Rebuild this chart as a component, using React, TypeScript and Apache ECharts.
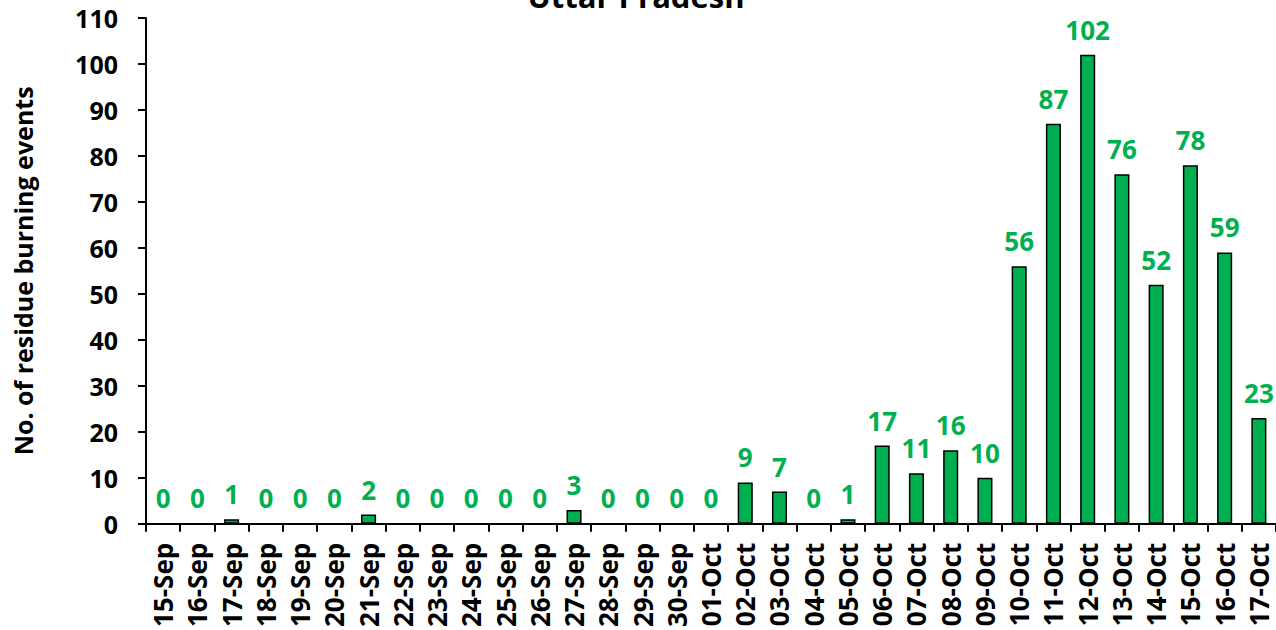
import React, { useEffect, useRef } from "react";
import * as echarts from "echarts";

const categories = [
  "15-Sep", "16-Sep", "17-Sep", "18-Sep", "19-Sep", "20-Sep", "21-Sep", "22-Sep",
  "23-Sep", "24-Sep", "25-Sep", "26-Sep", "27-Sep", "28-Sep", "29-Sep", "30-Sep",
  "01-Oct", "02-Oct", "03-Oct", "04-Oct", "05-Oct", "06-Oct", "07-Oct", "08-Oct",
  "09-Oct", "10-Oct", "11-Oct", "12-Oct", "13-Oct", "14-Oct", "15-Oct", "16-Oct", "17-Oct",
];
const events = [
  0, 0, 1, 0, 0, 0, 2, 0,
  0, 0, 0, 0, 3, 0, 0, 0,
  0, 9, 7, 0, 1, 17, 11, 16,
  10, 56, 87, 102, 76, 52, 78, 59, 23,
];
const chartTitle = "Uttar Pradesh";
const yAxisName = "No. of residue burning events";

const FONT = "'Open Sans', sans-serif";

export default function App() {
  const ref = useRef<HTMLDivElement>(null);
  useEffect(() => {
    if (!ref.current) return;
    const chart = echarts.init(ref.current, undefined, { renderer: "svg" });
    chart.setOption({
      animation: false,
      backgroundColor: "#ffffff",
      title: {
        text: chartTitle,
        left: 631,
        textAlign: "center",
        top: -25,
        textStyle: { fontFamily: FONT, fontWeight: "bold", fontSize: 31, color: "#000" },
      },
      grid: { left: 146, right: -3, top: 18, bottom: 105, containLabel: false },
      xAxis: {
        type: "category",
        data: categories,
        axisLine: { lineStyle: { color: "#000", width: 2 } },
        axisTick: { show: true, alignWithLabel: false, length: 8, lineStyle: { color: "#000", width: 2 } },
        axisLabel: {
          rotate: 90,
          interval: 0,
          margin: 19,
          fontFamily: FONT,
          fontWeight: "bold",
          fontSize: 26,
          color: "#000",
        },
      },
      yAxis: {
        type: "value",
        min: 0,
        max: 110,
        interval: 10,
        name: yAxisName,
        nameLocation: "middle",
        nameGap: 111,
        nameRotate: 90,
        nameTextStyle: { fontFamily: FONT, fontWeight: "bold", fontSize: 25, color: "#000" },
        splitLine: { show: false },
        axisLine: { show: true, lineStyle: { color: "#000", width: 2 } },
        axisTick: { show: true, length: 8, lineStyle: { color: "#000", width: 2 } },
        axisLabel: {
          margin: 28,
          fontFamily: FONT,
          fontWeight: "bold",
          fontSize: 25,
          color: "#000",
        },
      },
      series: [
        {
          type: "bar",
          data: events,
          barWidth: "44%",
          itemStyle: { color: "#00B050", borderColor: "#000", borderWidth: 1.5 },
          label: {
            show: true,
            position: "top",
            distance: 12,
            fontFamily: FONT,
            fontWeight: "bold",
            fontSize: 26,
            color: "#00B050",
          },
        },
      ],
    });
    return () => chart.dispose();
  }, []);
  return (
    <div
      ref={ref}
      style={{ position: "fixed", left: 0, top: 0, width: 1276, height: 630, background: "#fff" }}
    />
  );
}
